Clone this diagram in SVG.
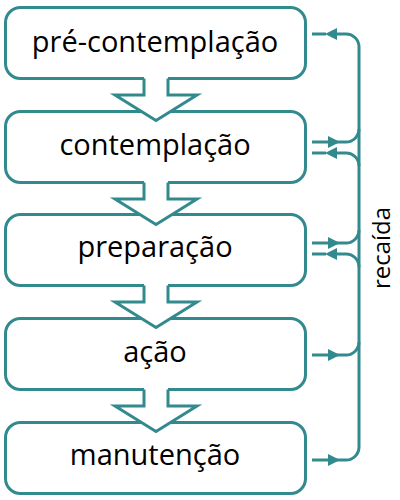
<svg xmlns="http://www.w3.org/2000/svg" xmlns:xlink="http://www.w3.org/1999/xlink" width="400" height="500" viewBox="0 0 400 500">
  <style>
    .box { fill: #ffffff; stroke: #338a8e; stroke-width: 3; }
    .label { font-family: "Open Sans", "Noto Sans", "DejaVu Sans", sans-serif; font-size: 29px; fill: #000000; text-anchor: middle; }
    .side { font-family: "Open Sans", "Noto Sans", "DejaVu Sans", sans-serif; font-size: 24px; fill: #000000; text-anchor: middle; }
    .chev-fill { fill: #ffffff; stroke: none; }
    .chev-line { fill: none; stroke: #338a8e; stroke-width: 3; stroke-linejoin: miter; }
    .link { fill: none; stroke: #338a8e; stroke-width: 3; }
    .head { fill: #338a8e; stroke: none; }
  </style>
  <defs>
    <!-- arrowhead pointing right, tip at origin -->
    <path id="ah" d="M0,0 L-12,-6 L-12,6 Z"/>
    <!-- downward chevron between stages; origin at top of stem -->
    <g id="chev">
      <path class="chev-fill" d="M144,-2 V16.5 H115 L156,42 L197,16.5 H168 V-2 Z"/>
      <path class="chev-line" d="M144,0 V16.5 H115 L156,42 L197,16.5 H168 V0"/>
    </g>
  </defs>

  <!-- stages -->
  <g id="stage-precontemplacao">
    <rect class="box" x="5.5" y="7.5" width="300" height="71" rx="15"/>
    <text class="label" x="155" y="52">pré-contemplação</text>
  </g>
  <g id="stage-contemplacao">
    <rect class="box" x="5.5" y="111.5" width="300" height="71" rx="15"/>
    <text class="label" x="155" y="155">contemplação</text>
  </g>
  <g id="stage-preparacao">
    <rect class="box" x="5.5" y="214.5" width="300" height="71" rx="15"/>
    <text class="label" x="155" y="257">preparação</text>
  </g>
  <g id="stage-acao">
    <rect class="box" x="5.5" y="318.5" width="300" height="71" rx="15"/>
    <text class="label" x="155" y="362">ação</text>
  </g>
  <g id="stage-manutencao">
    <rect class="box" x="5.5" y="422.5" width="300" height="71" rx="15"/>
    <text class="label" x="155" y="465">manutenção</text>
  </g>

  <!-- connectors -->
  <g id="connectors">
    <!-- forward chevrons -->
    <use xlink:href="#chev" transform="translate(0,78.5)"/>
    <use xlink:href="#chev" transform="translate(0,182.5)"/>
    <use xlink:href="#chev" transform="translate(0,285.5)"/>
    <use xlink:href="#chev" transform="translate(0,389.5)"/>

    <!-- relapse trunk: from manutenção back up to pré-contemplação -->
    <path class="link" d="M312,460 H346 A13,13 0 0 0 359,447 V47 A13,13 0 0 0 346,34 H336"/>
    <path class="link" d="M312,34 H326"/>
    <use class="head" xlink:href="#ah" transform="translate(325,34) rotate(180)"/>
    <use class="head" xlink:href="#ah" transform="translate(340,460)"/>

    <!-- contemplação out / in -->
    <path class="link" d="M312,142 H346 A13,13 0 0 0 359,129"/>
    <use class="head" xlink:href="#ah" transform="translate(340,142)"/>
    <path class="link" d="M359,166 A13,13 0 0 0 346,153 H336"/>
    <path class="link" d="M312,153 H326"/>
    <use class="head" xlink:href="#ah" transform="translate(325,153) rotate(180)"/>

    <!-- preparação out / in -->
    <path class="link" d="M312,243 H346 A13,13 0 0 0 359,230"/>
    <use class="head" xlink:href="#ah" transform="translate(340,243)"/>
    <path class="link" d="M359,267 A13,13 0 0 0 346,254 H336"/>
    <path class="link" d="M312,254 H326"/>
    <use class="head" xlink:href="#ah" transform="translate(325,254) rotate(180)"/>

    <!-- ação out -->
    <path class="link" d="M312,355 H346 A13,13 0 0 0 359,342"/>
    <use class="head" xlink:href="#ah" transform="translate(340,355)"/>
  </g>

  <text class="side" transform="translate(390,248) rotate(-90)">recaída</text>
</svg>
